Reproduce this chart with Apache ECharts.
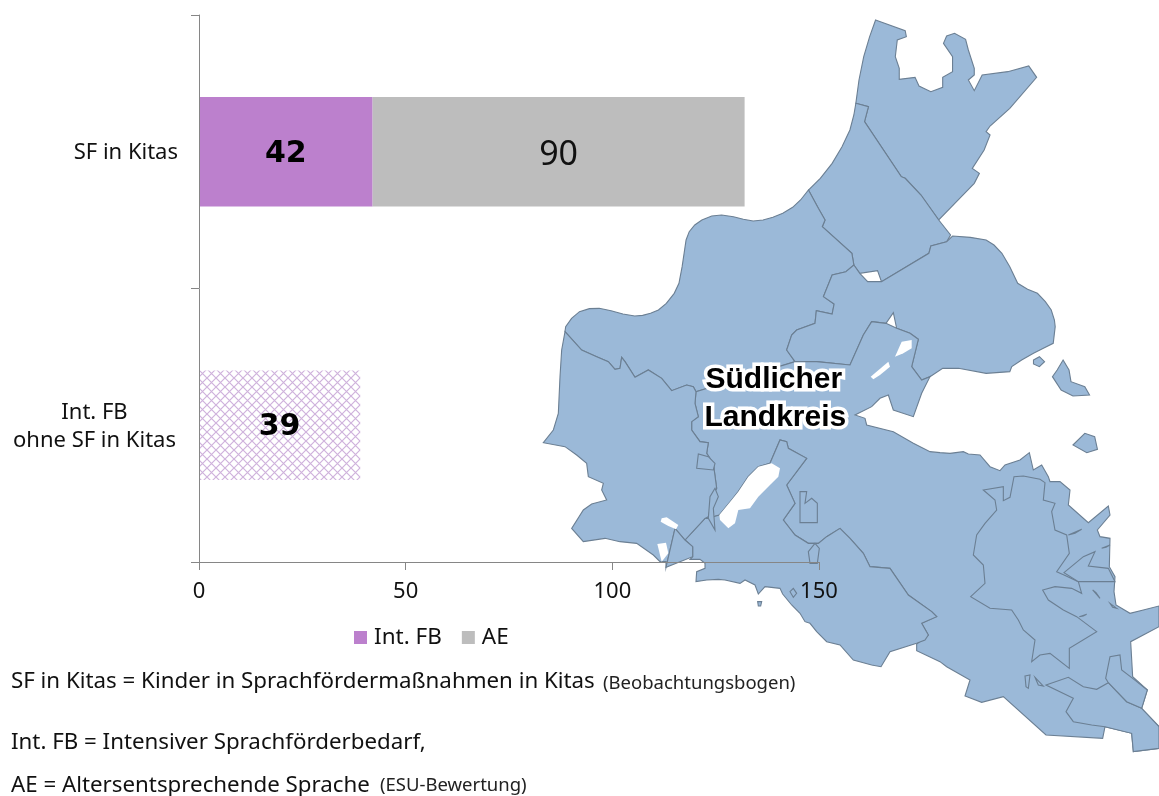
<!DOCTYPE html>
<html><head><meta charset="utf-8">
<style>html,body{margin:0;padding:0;background:#fff}#c{width:1159px;height:796px}</style>
<script src="https://cdn.jsdelivr.net/npm/echarts@6/dist/echarts.min.js"></script>
</head><body><div id="c"></div>
<script>
const categories = ['SF in Kitas', 'Int. FB\nohne SF in Kitas'];
const intFB = [42, 39];
const ae = [90, null];
const xTicks = [0, 50, 100, 150];

// Map outlines, traced from crops of the reference (background illustration, not data)
const crop = (x0,y0) => pts => pts.map(([cx,cy]) => [(x0+cx/3-540)*2.533, 3*y0+cy]);
const A = crop(680,300), B = crop(540,320), C = crop(690,520), D = crop(940,440);

const chainNorth = B([[75,35],[125,90],[170,110],[205,125],[225,148],[240,145],[245,112],[255,125],[285,172],[325,150],[365,175],[395,212],[440,195],[460,200],[468,215]]);
const chainEast = B([[465,250],[475,290],[455,305],[455,330],[480,365],[505,368],[500,400],[520,430],[530,505],[515,530],[510,570],[505,590],[495,595]]);
const seCoast = D([[0,38],[30,40],[70,35],[85,42],[120,45],[150,80],[180,92],[195,75],[240,60],[268,38],[280,90],[305,75],[325,110],[330,125],[360,125],[390,150],[385,195],[445,248],[505,198],[510,225],[472,270],[480,290],[510,295],[508,380],[525,410],[522,455],[528,495],[570,520],[610,510],[657,498],[657,560],[572,605],[578,710],[622,750],[605,805],[657,860],[657,925],[580,935],[575,880],[495,860],[488,895],[318,885],[190,770],[125,787],[75,768],[90,720],[20,680],[0,665]]);

const northEast = [[850,60],[925,92],[928,110],[905,120],[900,170],[910,205],[910,238],[950,232],[960,258],[990,275],[1020,262],[1020,232],[1045,215],[1045,170],[1022,130],[1030,108],[1050,100],[1078,118],[1085,150],[1100,205],[1100,225],[1085,240],[1100,272],[1120,225],[1185,215],[1238,198],[1258,232],[1190,325],[1140,378],[1130,395],[1140,405],[1125,450],[1095,505],[1113,520],[1100,550],[1010,660],[965,585],[925,535],[915,530],[822,365],[832,320],[800,310],[808,240],[820,170],[835,110]];
const middle = [[800,310],[832,320],[822,365],[915,530],[925,535],[965,585],[1010,660],[1040,705],[1030,725],[990,738],[985,760],[865,845],[855,812],[810,820],[795,795],[790,760],[715,680],[722,660],[705,625],[680,570],[710,535],[740,490],[765,440],[785,390],[795,345]];
const west = [[680,570],[705,625],[722,660],[715,680],[790,760],[795,795],[775,815],[740,825],[718,890],[745,912],[740,942],[700,932],...A([[405,70],[350,90],[335,105],[320,150],[345,185]]),...chainNorth.slice().reverse(),[65,980],[80,955],[100,935],[125,926],[150,925],[180,932],[210,942],[240,948],[260,946],[280,940],[300,930],[320,910],[340,880],[352,850],[360,800],[365,760],[370,720],[378,695],[392,675],[410,660],[435,648],[460,645],[490,650],[515,658],[540,663],[565,660],[590,652],[615,640],[640,622],[660,600]];
const eastNorth = [[775,815],[795,795],[810,820],[830,845],[865,845],[985,760],[990,738],[1030,725],[1045,708],[1090,712],[1130,720],[1150,735],[1170,760],[1190,800],[1210,850],[1235,868],[1260,880],[1280,905],[1295,930],[1303,960],[1305,980],[1300,1030],[1275,1045],[1250,1060],[1220,1080],[1195,1100],[1190,1115],[1130,1120],[1060,1105],[1020,1105],...A([[750,230],[725,240],[695,200],[715,118],[690,100],[650,85],[640,38],[618,70],[575,65],[550,105],[510,195],[410,185],[345,185],[320,150],[335,105],[350,90],[405,70]]),[700,932],[740,942],[745,912],[718,890],[740,825]];
const mainSouth = [...A([[575,65],[618,70],[650,85],[690,100],[715,118],[695,200],[725,240],[750,230],[725,280],[700,350],[640,330],[625,285],[600,295],[575,320],[525,345],[555,355],[560,375],[640,395],[700,430],[750,455]]),...seCoast,...C([[680,392],[680,372],[715,345],[695,310],[740,290],[725,275],[655,225],[600,145],[540,140],[520,100],[480,55],[450,25],[410,50],[385,70]]),...A([[385,730],[345,705],[310,660],[345,610],[320,555],[380,475],[325,445],[320,425],[300,420],[270,490],[235,500],[205,530],[175,575],[155,600],[118,645],[85,655]]),...chainEast.slice().reverse(),...B([[468,215]]),...A([[345,185],[410,185],[510,195],[550,105]])];
const southStrip = [...A([[85,655],[118,645],[155,600],[175,575],[205,530],[235,500],[270,490],[300,420],[320,425],[325,445],[380,475],[320,555],[345,610],[310,660],[345,705],[385,730]]),...C([[385,70],[410,50],[450,25],[480,55],[520,100],[540,140],[600,145],[655,225],[725,275],[740,290],[695,310],[715,345],[705,360],[680,370],[600,395],[573,440],[545,435],[490,420],[450,375],[410,365],[380,335],[360,310],[345,305],[330,280],[305,255],[278,222],[270,205],[225,200],[205,222],[195,195],[165,180],[150,190],[105,180],[85,178],[50,180],[18,185],[20,155],[45,145],[45,130],[30,118],[0,118]]),...B([[458,710],[458,680],[435,660],[495,595]])];
const southWest = [...chainNorth,...chainEast,...B([[435,660],[405,625],[378,742],[378,725],[360,725],[340,705],[290,670],[240,665],[195,655],[130,665],[95,625],[130,570],[155,552],[200,540],[185,510],[190,490],[145,470],[140,430],[110,405],[75,380],[10,368],[40,330],[55,280],[60,170],[65,90]])];
const wedge = B([[405,625],[435,660],[458,680],[458,710],[378,742]]);
const eastInner = D([[130,150],[190,140],[190,182],[210,172],[222,110],[250,108],[300,118],[315,128],[310,180],[345,190],[335,215],[345,270],[380,285],[388,340],[350,395],[372,405],[415,425],[425,460],[395,445],[345,440],[308,450],[325,480],[370,510],[410,530],[470,575],[388,625],[388,685],[330,640],[300,645],[275,665],[285,600],[250,570],[235,540],[215,510],[150,505],[92,470],[135,430],[130,375],[100,345],[110,285],[135,250],[170,210],[165,180]]);
const fjord = D([[372,398],[430,350],[465,335],[445,378],[505,385],[525,425],[415,425]]);
const southTip = D([[318,735],[385,712],[430,740],[470,748],[505,728],[560,785],[605,805],[657,860],[657,925],[580,935],[575,880],[495,860],[455,855],[400,845],[378,815],[400,775]]);
const southEastStrip = D([[497,715],[510,650],[540,645],[545,690],[578,715],[622,750],[605,805],[560,785],[505,728]]);
const inlandBox = A([[360,575],[380,575],[375,610],[395,595],[412,610],[412,668],[360,668]]);
const bayBox = C([[355,95],[375,70],[388,85],[382,130],[360,130]]);
const westBox = A([[55,462],[50,505],[100,510],[105,490],[85,470]]);
const slit = A([[85,655],[90,590],[105,565],[115,590],[100,625],[105,690]]);
const islandA = [[1250,1080],[1265,1070],[1278,1085],[1265,1100],[1250,1092]];
const islandB = [[1325,1080],[1340,1110],[1345,1145],[1380,1160],[1392,1185],[1350,1188],[1320,1170],[1298,1130],[1310,1110]];
const islandC = [[1350,1335],[1380,1300],[1405,1310],[1412,1348],[1385,1358]];
const islandD = D([[255,708],[270,705],[265,745],[258,740]]);
const islandE = D([[285,712],[310,738],[295,735]]);
const islandF = C([[300,215],[310,205],[320,220],[310,232]]);
const islandG = C([[203,245],[215,245],[212,258],[205,258]]);
const slitA = D([[385,285],[425,268],[405,280]]);
const slitB = D([[485,325],[510,315],[498,322]]);
const slitC = D([[458,450],[480,475],[468,458]]);
const slitD = D([[418,530],[440,523],[430,528]]);
const slitE = D([[510,490],[530,505],[518,502]]);
const lakeA = A([[645,170],[665,125],[695,120],[695,145],[670,160]]);
const lakeB = A([[572,230],[625,185],[630,200],[600,225],[580,238]]);
const lakeC = A([[235,500],[275,490],[300,505],[295,530],[270,555],[235,590],[210,625],[175,630],[165,670],[145,685],[120,660],[118,645],[155,600],[175,575],[205,530]]);
const lakeD = B([[365,595],[380,592],[415,615],[408,628],[385,618],[362,605]]);
const lakeE = B([[352,672],[378,668],[385,700],[365,725]]);

const land = {northEast,middle,west,eastNorth,mainSouth,southStrip,southWest,wedge,eastInner,fjord,southTip,southEastStrip,inlandBox,bayBox,westBox,slit,islandA,islandB,islandC,islandD,islandE,islandF,islandG,slitA,slitB,slitC,slitD,slitE};
const lakes = {lakeA,lakeB,lakeC,lakeD,lakeE};
const toPx = ([x,y]) => [540 + x/2.533, y/3];
const feature = (name,pts) => ({type:'Feature',properties:{name},geometry:{type:'Polygon',coordinates:[[...pts,pts[0]]]}});
const features = [...Object.entries(land),...Object.entries(lakes)].map(([n,p])=>feature(n,p));
echarts.registerMap('kreis',{type:'FeatureCollection',features});
const allPx = Object.values(land).flat().map(toPx);
const xs = allPx.map(p=>p[0]), ys = allPx.map(p=>p[1]);
const minX=Math.min(...xs),maxX=Math.max(...xs),minY=Math.min(...ys),maxY=Math.max(...ys);

function hatch(){
  const c=document.createElement('canvas');c.width=c.height=9;
  const g=c.getContext('2d');g.fillStyle='#fff';g.fillRect(0,0,9,9);
  g.strokeStyle='#cfb2dc';g.lineWidth=1.2;
  g.beginPath();g.moveTo(0,0);g.lineTo(9,9);g.moveTo(9,0);g.lineTo(0,9);g.stroke();
  return c;
}
const FONT='"Noto Sans"';
const chart=echarts.init(document.getElementById('c'),null,{renderer:'canvas'});
chart.setOption({
  animation:false,
  backgroundColor:'#fff',
  legend:{left:349,top:621,itemWidth:13,itemHeight:13,itemGap:20,icon:'rect',
    data:['Int. FB','AE'],textStyle:{fontFamily:FONT,fontSize:22.5,color:'#111',padding:[0,0,0,2]}},
  grid:{left:199,top:15,width:620,height:547},
  geo:{map:'kreis',silent:true,roam:false,z:0,
    projection:{project:toPx,unproject:p=>[(p[0]-540)*2.533,p[1]*3]},
    left:minX,top:minY,width:maxX-minX,height:maxY-minY,
    label:{show:false},
    itemStyle:{areaColor:'#9bb9d8',borderColor:'#6b7f93',borderWidth:1.1},
    regions:Object.keys(lakes).map(name=>({name,silent:true,itemStyle:{areaColor:'#fff',borderColor:'#fff',borderWidth:0}}))},
  xAxis:{type:'value',min:0,max:150,interval:50,z:3,splitLine:{show:false},
    axisLine:{show:true,lineStyle:{color:'#868686'}},
    axisTick:{show:true,length:8,lineStyle:{color:'#868686'}},
    axisLabel:{fontFamily:FONT,fontSize:22,color:'#111',margin:19,
      formatter:v=>xTicks.includes(v)?String(v):''}},
  yAxis:{type:'category',inverse:true,data:categories,z:3,
    axisLine:{show:true,onZero:false,lineStyle:{color:'#868686'}},
    axisTick:{show:true,length:8,lineStyle:{color:'#868686'}},
    axisLabel:{margin:21,fontFamily:FONT,fontSize:22,color:'#111',lineHeight:28,padding:[2,0,0,0],
      formatter:v=>{const p=v.split('\n');return p.length>1?p.map(t=>`{c|${t}}`).join('\n'):v;},
      rich:{c:{width:167,align:'center',fontFamily:FONT,fontSize:22,color:'#111',lineHeight:28}}}},
  series:[
    {name:'Int. FB',type:'bar',stack:'t',barWidth:'40%',z:2,itemStyle:{color:'#bc80cd'},
      label:{show:true,position:'inside',offset:[0,2],fontFamily:'"DejaVu Sans"',fontWeight:'bold',fontSize:30,color:'#000'},
      data:intFB.map((v,i)=>i===1?{value:v,itemStyle:{color:{image:hatch(),repeat:'repeat'}}}:v)},
    {name:'AE',type:'bar',stack:'t',barWidth:'40%',z:2,itemStyle:{color:'#bdbdbd'},
      label:{show:true,position:'inside',offset:[0,4],fontFamily:FONT,fontSize:34,color:'#111'},
      data:ae}
  ],
  graphic:[
    {type:'text',z:10,left:702,top:361,silent:true,style:{text:'Südlicher',fontFamily:'"Liberation Sans"',fontWeight:'bold',fontSize:30,fill:'#000',stroke:'#fff',lineWidth:7}},
    {type:'text',z:10,left:701,top:399,silent:true,style:{text:'Landkreis',fontFamily:'"Liberation Sans"',fontWeight:'bold',fontSize:30,fill:'#000',stroke:'#fff',lineWidth:7}},
    {type:'text',left:11,top:671,style:{text:'SF in Kitas = Kinder in Sprachfördermaßnahmen in Kitas',fontFamily:FONT,fontSize:22.3,fill:'#111'}},
    {type:'text',left:603,top:674,style:{text:'(Beobachtungsbogen)',fontFamily:FONT,fontSize:18.5,fill:'#222'}},
    {type:'text',left:11,top:732,style:{text:'Int. FB = Intensiver Sprachförderbedarf,',fontFamily:FONT,fontSize:22.3,fill:'#111'}},
    {type:'text',left:11,top:775,style:{text:'AE = Altersentsprechende Sprache',fontFamily:FONT,fontSize:22.3,fill:'#111'}},
    {type:'text',left:380,top:776,style:{text:'(ESU-Bewertung)',fontFamily:FONT,fontSize:18.5,fill:'#222'}}
  ]
});
</script></body></html>
